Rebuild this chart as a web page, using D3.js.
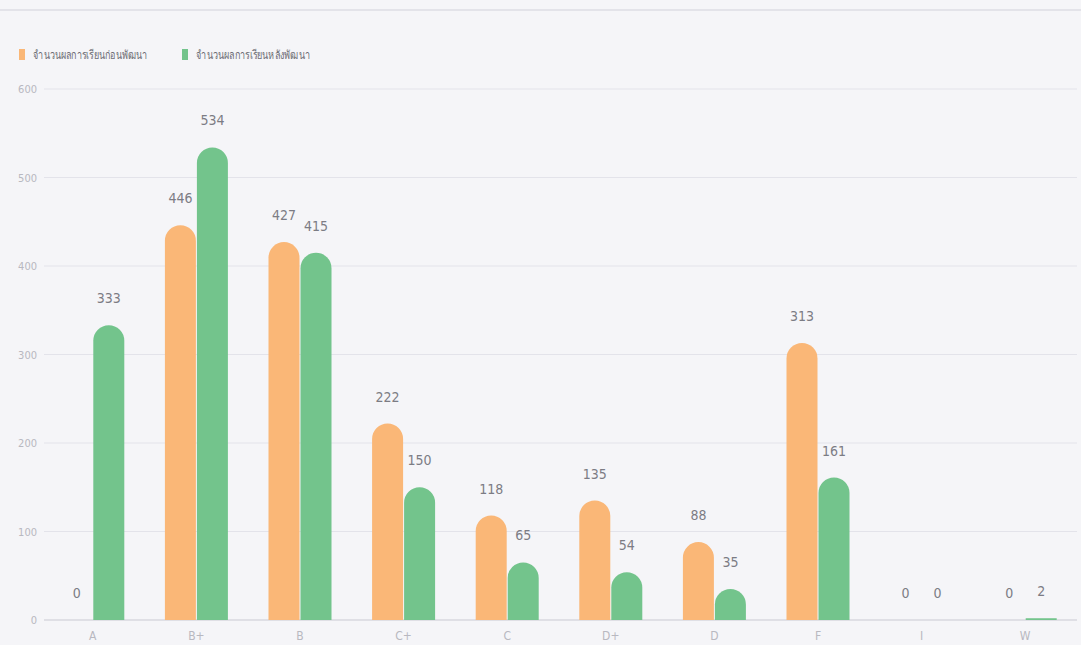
<!doctype html>
<html lang="th">
<head>
<meta charset="utf-8">
<style>
	body { margin: 0; background: #f5f5f8; }
	svg text { font-family: "DejaVu Sans Condensed", "Noto Sans", sans-serif; }
</style>
</head>
<body>
<script src="https://d3js.org/d3.v7.min.js"></script>
<div id="chart"></div>
<script>
	// data
	var grades = ["A", "B+", "B", "C+", "C", "D+", "D", "F", "I", "W"];
	var before = [0, 446, 427, 222, 118, 135, 88, 313, 0, 0];
	var after = [333, 534, 415, 150, 65, 54, 35, 161, 0, 2];
	var seriesNames = ["จำนวนผลการเรียนก่อนพัฒนา", "จำนวนผลการเรียนหลังพัฒนา"];
	var colors = ["#fab777", "#73c48c"];
	var yTicks = [0, 100, 200, 300, 400, 500, 600];

	var W = 1081, H = 645;
	var plot = {left: 41, right: 1077, top: 89, bottom: 620};

	var svg = d3.select("#chart").append("svg")
		.attr("width", W)
		.attr("height", H);

	// thin line across the top
	svg.append("line")
		.attr("x1", 0).attr("x2", W)
		.attr("y1", 10).attr("y2", 10)
		.attr("stroke", "#dddde4").attr("stroke-width", 1.5);

	var x = d3.scaleBand().domain(grades).range([plot.left, plot.right]);
	var y = d3.scaleLinear().domain([0, 600]).range([plot.bottom, plot.top]);
	var barW = 31;

	// grid lines + y labels
	svg.selectAll(".grid").data(yTicks).enter().append("line")
		.attr("class", "grid")
		.attr("x1", 44).attr("x2", plot.right)
		.attr("y1", d => y(d)).attr("y2", d => y(d))
		.attr("stroke", d => d === 0 ? "#c9c9d2" : "#e3e3ea");
	svg.selectAll(".ylab").data(yTicks).enter().append("text")
		.attr("class", "ylab")
		.attr("x", 37).attr("y", d => y(d) + 4)
		.attr("text-anchor", "end")
		.attr("font-size", 11).attr("fill", "#b8b8c0")
		.text(d => d);

	// x labels
	svg.selectAll(".xlab").data(grades).enter().append("text")
		.attr("class", "xlab")
		.attr("x", d => x(d) + x.bandwidth() / 2)
		.attr("y", 640)
		.attr("text-anchor", "middle")
		.attr("font-size", 12).attr("fill", "#b8b8c0")
		.text(d => d);

	function barPath(x0, v) {
		var y0 = y(0), yt = y(v), r = barW / 2;
		if (y0 - yt <= r) return "M" + x0 + "," + y0 + "V" + yt + "H" + (x0 + barW) + "V" + y0 + "Z";
		return "M" + x0 + "," + y0 + "V" + (yt + r) +
			"A" + r + "," + r + " 0 0 1 " + (x0 + barW) + "," + (yt + r) +
			"V" + y0 + "Z";
	}

	[before, after].forEach(function(vals, s) {
		var rows = grades.map((g, i) => ({g: g, v: vals[i]}));
		var bx = d => x(d.g) + x.bandwidth() / 2 + (s === 0 ? -barW - 0.5 : 0.5);
		svg.selectAll(".bar" + s).data(rows.filter(d => d.v > 0)).enter().append("path")
			.attr("class", "bar" + s)
			.attr("d", d => barPath(bx(d), d.v))
			.attr("fill", colors[s]);
		svg.selectAll(".val" + s).data(rows).enter().append("text")
			.attr("class", "val" + s)
			.attr("x", d => bx(d) + barW / 2)
			.attr("y", d => y(d.v) - 22)
			.attr("text-anchor", "middle")
			.attr("font-size", 14).attr("fill", "#7c7c84")
			.text(d => d.v);
	});

	// legend
	var leg = svg.selectAll(".leg").data(seriesNames).enter().append("g")
		.attr("class", "leg")
		.attr("transform", (d, i) => "translate(" + (19 + i * 163) + ",49)");
	leg.append("rect").attr("width", 6).attr("height", 11).attr("fill", (d, i) => colors[i]);
	leg.append("text").attr("x", 14).attr("y", 10)
		.attr("font-size", 12).attr("fill", "#6d6d75")
		.attr("textLength", 114).attr("lengthAdjust", "spacingAndGlyphs")
		.text(d => d);
</script>
</body>
</html>
